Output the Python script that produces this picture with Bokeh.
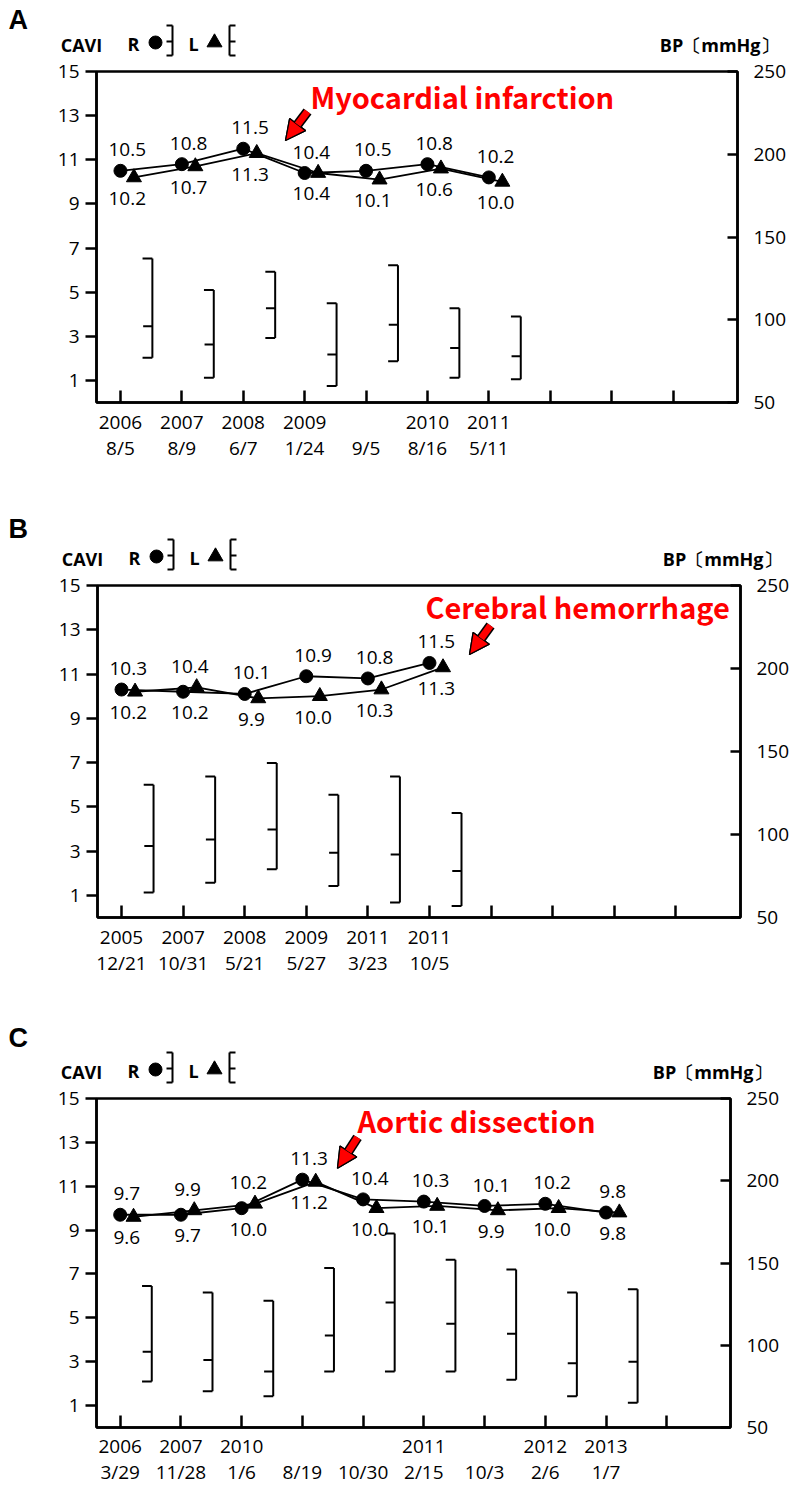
import numpy as np
from bokeh.plotting import figure
from bokeh.models import Range1d, LinearAxis, FixedTicker, Label, Arrow, NormalHead
from bokeh.layouts import column
from bokeh.embed import file_html
from bokeh.resources import INLINE
from bokeh.core.properties import value

# ---------------- data ----------------
# Panel A
a_dates = ["2006\n8/5", "2007\n8/9", "2008\n6/7", "2009\n1/24", "\n9/5", "2010\n8/16", "2011\n5/11"]
a_cavi_r = [10.5, 10.8, 11.5, 10.4, 10.5, 10.8, 10.2]
a_cavi_l = [10.2, 10.7, 11.3, 10.4, 10.1, 10.6, 10.0]
a_sbp = [137, 118, 129, 110, 133, 107, 102]
a_mbp = [96, 85, 107, 79, 97, 83, 78]
a_dbp = [77, 65, 89, 60, 75, 65, 64]
a_event = "Myocardial infarction"

# Panel B
b_dates = ["2005\n12/21", "2007\n10/31", "2008\n5/21", "2009\n5/27", "2011\n3/23", "2011\n10/5"]
b_cavi_r = [10.3, 10.2, 10.1, 10.9, 10.8, 11.5]
b_cavi_l = [10.2, 10.4, 9.9, 10.0, 10.3, 11.3]
b_sbp = [130, 135, 143, 124, 135, 113]
b_mbp = [93, 97, 103, 89, 88, 78]
b_dbp = [65, 71, 79, 69, 59, 57]
b_event = "Cerebral hemorrhage"

# Panel C
c_dates = ["2006\n3/29", "2007\n11/28", "2010\n1/6", "\n8/19", "\n10/30", "2011\n2/15", "\n10/3", "2012\n2/6", "2013\n1/7"]
c_cavi_r = [9.7, 9.7, 10.0, 11.3, 10.4, 10.3, 10.1, 10.2, 9.8]
c_cavi_l = [9.6, 9.9, 10.2, 11.2, 10.0, 10.1, 9.9, 10.0, 9.8]
c_sbp = [136, 132, 127, 147, 168, 152, 146, 132, 134]
c_mbp = [96, 91, 84, 106, 126, 113, 107, 89, 90]
c_dbp = [78, 72, 69, 84, 84, 84, 79, 69, 65]
c_event = "Aortic dissection"

cavi_ticks = [1, 3, 5, 7, 9, 11, 13, 15]
bp_ticks = [50, 100, 150, 200, 250]
n_slots = 10

FONT = "Open Sans"
PAGE_W = 792
GAP = 14         # px between header canvas bottom and box top
X0, X1 = -0.39, 10.05


def header_fig(letter, g):
    top, bl, br, bt = g["top"], g["box"][0], g["box"][1], g["box"][2]
    h = bt - GAP - top
    p = figure(width=PAGE_W, height=h, title=None, x_range=Range1d(0, PAGE_W), y_range=Range1d(h, 0),
               output_backend="svg", toolbar_location=None, x_axis_location=None, y_axis_location=None,
               min_border=0, min_border_left=0, min_border_right=0, min_border_top=0, min_border_bottom=0)
    p.frame_align = False
    p.outline_line_color = None
    p.xgrid.visible = False
    p.ygrid.visible = False
    oy = bt - top  # box top in header canvas coordinates

    def X(dx):
        return bl + dx

    def Y(dy):
        return oy + dy

    bold = dict(text_font=value(FONT), text_font_style="bold", text_font_size="18px",
                text_color="black", text_baseline="middle")
    p.text([8], [Y(g["letter_dy"])], text=[letter], text_align="left", text_baseline="middle",
           text_font=value("Liberation Sans"), text_font_style="bold", text_font_size="27px", text_color="black")
    p.text([X(-15), X(37), X(97)], [Y(-27), Y(-28), Y(-28)], text=["CAVI", "R", "L"],
           text_align="center", **bold)
    p.text([br + 41], [Y(-27)], text=["BP〔mmHg〕"], text_align="right", **bold)
    p.scatter([X(59)], [Y(-29)], marker="circle", size=13, color="black")
    p.scatter([X(118)], [Y(-29)], marker="triangle", size=15, color="black")
    xr, xl = X(76), X(133)
    yt, yb, ym = Y(-46), Y(-16), Y(-30)
    s = 6
    p.segment([xr, xr - s, xr - s, xr - s, xl, xl, xl, xl],
              [yb, yt, yb, ym, yb, yt, yb, ym],
              [xr, xr, xr, xr, xl, xl + s, xl + s, xl + s],
              [yt, yt, yb, ym, yt, yt, yb, ym], line_color="black", line_width=2)
    return p


def chart_fig(dates, r, l, sbp, mbp, dbp, event, g):
    bl, br, bt, bb = g["box"]
    ctop = bt - GAP
    h = g["bottom"] - ctop
    p = figure(width=PAGE_W, height=h, title=None,
               x_range=Range1d(X0, X1), y_range=Range1d(0, 15),
               output_backend="svg", toolbar_location=None,
               min_border_left=bl, min_border_right=PAGE_W - br,
               min_border_top=GAP, min_border_bottom=g["bottom"] - bb)
    p.frame_align = False
    p.outline_line_color = "black"
    p.outline_line_width = 2.5
    p.xgrid.visible = False
    p.ygrid.visible = False

    sx = (br - bl) / (X1 - X0)
    sy = (bb - bt) / 15.0

    def dx2x(dx):
        return X0 + dx / sx

    def dy2y(dy):
        return 15 - dy / sy

    xa = p.xaxis[0]
    xa.ticker = FixedTicker(ticks=list(range(n_slots)))
    xa.major_label_overrides = {i: (dates[i] if i < len(dates) else "") for i in range(n_slots)}
    xa.major_tick_in = 12
    xa.major_tick_out = 0
    xa.major_label_standoff = g["xstand"]
    xa.major_label_text_line_height = 1.0

    ya = p.yaxis[0]
    ya.ticker = FixedTicker(ticks=cavi_ticks)
    ya.major_tick_out = 11
    ya.major_tick_in = 0
    ya.major_label_standoff = 6

    p.extra_y_ranges = {"bp": Range1d(50, 250)}
    ra = LinearAxis(y_range_name="bp", ticker=FixedTicker(ticks=bp_ticks))
    ra.major_tick_in = 10
    ra.major_tick_out = 0
    ra.major_label_standoff = 16
    p.add_layout(ra, "right")

    for ax in (xa, ya, ra):
        ax.axis_line_width = 2.5
        ax.axis_line_color = "black"
        ax.major_tick_line_width = 2.5
        ax.major_tick_line_color = "black"
        ax.minor_tick_line_color = None
        ax.major_label_text_font = FONT
        ax.major_label_text_font_size = "19px"
        ax.major_label_text_color = "black"

    # CAVI series
    n = len(r)
    xr = np.arange(n, dtype=float)
    xl = xr + 0.22
    p.line(xr, r, line_color="black", line_width=1.8)
    p.line(xl, l, line_color="black", line_width=1.8)
    p.scatter(xr, r, marker="circle", size=13, color="black")
    p.scatter(xl, l, marker="triangle", size=15, color="black")

    hi = np.maximum(r, l)
    lo = np.minimum(r, l)
    xm = xr + 0.11
    tk = dict(text_align="center", text_baseline="middle", text_font=value(FONT),
              text_font_size="19px", text_color="black")
    p.text(xm, hi + 0.95, text=[f"{v:.1f}" for v in hi], **tk)
    p.text(xm, lo - 0.95, text=[f"{v:.1f}" for v in lo], **tk)

    # BP brackets
    xb = xr + 0.52
    kw = dict(line_color="black", line_width=2, y_range_name="bp")
    p.segment(xb, dbp, xb, sbp, **kw)
    p.segment(xb - 0.16, sbp, xb, sbp, **kw)
    p.segment(xb - 0.16, dbp, xb, dbp, **kw)
    p.segment(xb - 0.15, mbp, xb, mbp, **kw)

    # event annotation
    ex, ey = g["event_xy"]
    p.add_layout(Label(x=dx2x(ex), y=dy2y(ey), text=event, text_align="left", text_baseline="middle",
                       text_font="Noto Sans CJK JP", text_font_style="bold",
                       text_font_size="29px", text_color="#ff0000"))
    (tx, ty), (hx, hy) = g["arrow"]
    for lw, col in ((10, "black"), (7, "#ff0000")):
        p.add_layout(Arrow(end=NormalHead(size=20, fill_color="#ff0000", line_color="black", line_width=1.3),
                           x_start=dx2x(tx), y_start=dy2y(ty), x_end=dx2x(hx), y_end=dy2y(hy),
                           line_color=col, line_width=lw))
    return p


geoms = {
    "A": dict(top=0, bottom=505, box=(96, 737, 71, 402), letter_dy=-51.5, xstand=6,
              event_xy=(214, 24), arrow=((211, 40), (189, 69))),
    "B": dict(top=505, bottom=1015, box=(97, 740, 585, 917), letter_dy=-57, xstand=6,
              event_xy=(328, 20), arrow=((393, 40), (372, 69))),
    "C": dict(top=1015, bottom=1487, box=(96, 730, 1098, 1428), letter_dy=-61, xstand=5,
              event_xy=(261, 22), arrow=((261, 39), (241, 70))),
}

figs = []
for letter, dates, r, l, sbp, mbp, dbp, ev in (
        ("A", a_dates, a_cavi_r, a_cavi_l, a_sbp, a_mbp, a_dbp, a_event),
        ("B", b_dates, b_cavi_r, b_cavi_l, b_sbp, b_mbp, b_dbp, b_event),
        ("C", c_dates, c_cavi_r, c_cavi_l, c_sbp, c_mbp, c_dbp, c_event)):
    g = geoms[letter]
    figs.append(header_fig(letter, g))
    figs.append(chart_fig(dates, r, l, sbp, mbp, dbp, ev, g))

layout = column(*figs, spacing=0)
open("out.html", "w").write(file_html(layout, INLINE))
